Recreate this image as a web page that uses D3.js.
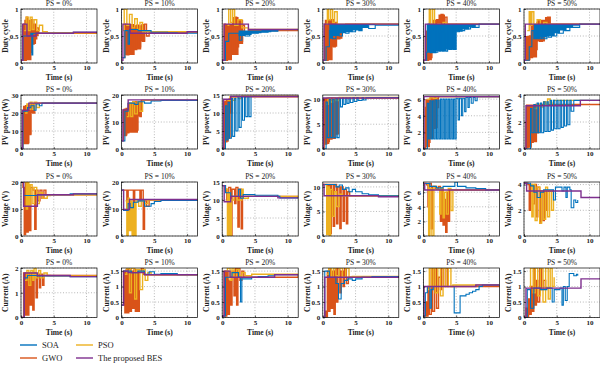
<!DOCTYPE html>
<html>
<head>
<meta charset="utf-8">
<script src="https://cdn.jsdelivr.net/npm/d3@7"></script>
<style>
  body { margin: 0; background: #fff; }
  text { font-family: "Liberation Serif", "Times New Roman", serif; }
</style>
</head>
<body>
<div id="chart"></div>
<script>
// panel titles and axis labels
var psLabels = ["PS = 0%", "PS = 10%", "PS = 20%", "PS = 30%", "PS = 40%", "PS = 50%"];
var rowLabels = ["Duty cycle", "PV power (W)", "Voltage (V)", "Current (A)"];
var xTicks = [0, 5, 10];

// y axis top and ticks, one entry per column
var dutyTop = [1, 1, 1, 1, 1, 1];
var dutyTicks = [[0, 0.5, 1], [0, 0.5, 1], [0, 0.5, 1], [0, 0.5, 1], [0, 0.5, 1], [0, 0.5, 1]];
var powerTop = [30, 20, 15, 10.9, 6.5, 4];
var powerTicks = [[0, 10, 20, 30], [0, 10, 20], [0, 5, 10, 15], [0, 5, 10], [0, 2, 4, 6], [0, 2, 4]];
var voltTop = [20, 20, 15, 11, 7.4, 4.2];
var voltTicks = [[0, 10, 20], [0, 10, 20], [0, 5, 10, 15], [0, 5, 10], [0, 2, 4, 6], [0, 2, 4]];
var currTop = [2, 1.6, 1.6, 1.6, 1.6, 1.6];
var currTicks = [[0, 1, 2], [0, 0.5, 1, 1.5], [0, 0.5, 1, 1.5], [0, 0.5, 1, 1.5], [0, 0.5, 1, 1.5], [0, 0.5, 1, 1.5]];

// ---- Duty cycle: [time, value] steps, one list per column ----
var dutySOA = [
  [[0,0.05],[0.3,0.5],[1.5,0.55],[1.65,0.15],[1.8,0.55],[4.5,0.55],[8,0.57],[11.6,0.57]],
  [[0,0.1],[0.5,0.6],[1.0,0.35],[1.2,0.62],[2.5,0.6],[4.5,0.57],[7,0.56],[8.5,0.55],[11.6,0.55]],
  [[0,0.05],[0.5,0.4],[1.0,0.55],[2.6,0.42],[3.0,0.55],[3.5,0.5],[4.2,0.55],[5.5,0.57],[7,0.59],[8.5,0.62],[11.6,0.62]],
  [[0,0.05],[0.5,0.3],[1.0,0.6],[1.5,0.45],[2.0,0.65],[2.5,0.5],[3.0,0.66],[3.5,0.55],[4,0.67],[4.5,0.58],[5,0.68],[5.5,0.6],[6,0.69],[7,0.64],[8,0.7],[11.6,0.72]],
  [[0,0.05],[0.5,0.2],[0.7,0.72],[0.9,0.2],[1.2,0.7],[1.4,0.2],[1.7,0.7],[1.9,0.2],[2.2,0.7],[2.4,0.22],[2.7,0.7],[2.9,0.22],[3.2,0.7],[3.4,0.22],[3.7,0.7],[3.9,0.25],[4.3,0.7],[4.5,0.25],[5.0,0.58],[5.5,0.7],[5.7,0.6],[6.3,0.7],[6.5,0.63],[7.2,0.7],[7.4,0.66],[8.5,0.72],[11.6,0.72]],
  [[0,0.05],[0.8,0.3],[1.2,0.6],[1.5,0.45],[2.0,0.7],[2.2,0.45],[2.7,0.7],[2.9,0.45],[3.5,0.7],[3.7,0.48],[4.2,0.7],[4.4,0.5],[5.0,0.7],[5.2,0.55],[6.0,0.7],[6.2,0.6],[7.0,0.7],[7.2,0.66],[8.5,0.72],[11.6,0.72]]
];
var dutyGWO = [
  [[0,0.05],[0.4,0.72],[0.6,0.05],[0.8,0.85],[1.0,0.1],[1.2,0.75],[1.4,0.2],[1.6,0.8],[1.8,0.35],[2.0,0.72],[2.2,0.45],[2.4,0.65],[2.7,0.55],[11.6,0.55]],
  [[0,0.1],[0.5,0.72],[0.8,0.15],[1.1,0.7],[1.4,0.2],[1.7,0.68],[2.0,0.25],[2.3,0.7],[2.6,0.3],[2.9,0.6],[3.2,0.4],[3.5,0.72],[3.8,0.5],[4.2,0.57],[11.6,0.57]],
  [[0,0.05],[0.3,0.72],[0.5,0.05],[0.8,0.6],[1.0,0.1],[1.3,0.7],[1.6,0.2],[1.9,0.85],[2.2,0.3],[2.5,0.8],[2.8,0.4],[3.1,0.7],[3.4,0.55],[4,0.6],[11.6,0.6]],
  [[0,0.05],[0.3,0.72],[0.5,0.05],[0.8,0.75],[1.0,0.15],[1.3,0.8],[1.6,0.3],[1.9,0.75],[2.2,0.45],[2.6,0.7],[3,0.6],[3.5,0.72],[11.6,0.72]],
  [[0,0.05],[0.3,0.5],[0.5,0.05],[0.8,0.6],[1.0,0.1],[1.3,0.72],[1.6,0.3],[2.0,0.8],[2.3,0.5],[2.7,0.9],[3.0,0.6],[3.3,0.85],[3.6,0.72],[11.6,0.72]],
  [[0,0.05],[0.3,0.3],[0.5,0.05],[0.8,0.5],[1.0,0.1],[1.3,0.7],[1.6,0.25],[2.0,0.75],[2.4,0.4],[2.8,0.78],[3.2,0.55],[3.6,0.85],[4.0,0.72],[11.6,0.72]]
];
var dutyPSO = [
  [[0.5,0.6],[0.8,0.85],[1.1,0.6],[1.4,0.85],[1.7,0.62],[2.0,0.8],[2.4,0.6],[2.8,0.7],[3.3,0.58],[4,0.56],[11.6,0.56]],
  [[0.2,0.6],[0.4,1.0],[0.8,0.7],[1.2,0.9],[1.6,0.65],[2.0,0.82],[2.4,0.62],[2.8,0.75],[3.2,0.58],[11.6,0.58]],
  [[0.8,0.7],[1.0,1.0],[1.3,0.75],[1.6,1.0],[1.9,0.7],[2.4,0.8],[3,0.65],[4,0.62],[11.6,0.62]],
  [[0.5,0.72],[0.7,1.0],[0.9,0.8],[1.2,1.0],[1.5,0.75],[1.8,0.95],[2.2,0.72],[11.6,0.72]],
  [[0.6,0.6],[0.9,1.0],[1.1,0.7],[1.4,1.0],[1.7,0.65],[2.2,0.72],[2.6,0.65],[3.0,0.75],[3.5,0.72],[11.6,0.72]],
  [[0.5,0.6],[0.8,0.95],[1.0,0.7],[1.2,0.95],[1.5,0.72],[2,0.8],[2.5,0.7],[3,0.75],[3.5,0.72],[11.6,0.72]]
];
var dutyBES = [
  [[0,0.05],[0.25,0.72],[0.9,0.5],[2.3,0.55],[8,0.57],[11.6,0.57]],
  [[0,0.05],[0.2,0.72],[1.3,0.55],[10,0.58],[11.6,0.58]],
  [[0,0.05],[0.3,0.72],[4.0,0.62],[11.6,0.62]],
  [[0,0.05],[0.2,0.72],[11.6,0.72]],
  [[0,0.05],[0.3,0.72],[11.6,0.72]],
  [[0,0.05],[0.2,0.72],[11.6,0.72]]
];
// dense switching shown as a band: [time, low, high]
var dutySOABand = [
  [],
  [],
  [[2.5,0.5,0.6],[3.5,0.52,0.6],[4.5,0.55,0.6],[6,0.57,0.61],[7.5,0.59,0.62],[8.5,0.62,0.62]],
  [[1.0,0.45,0.72],[1.5,0.5,0.72],[2.5,0.55,0.72],[3.5,0.57,0.72],[4.5,0.6,0.72],[6.0,0.65,0.72],[7.0,0.7,0.72],[8.0,0.72,0.72]],
  [[0.5,0.2,0.72],[1.0,0.18,0.72],[2.0,0.22,0.72],[3.5,0.25,0.72],[5.0,0.58,0.72],[6.0,0.62,0.72],[7.0,0.66,0.72],[8.0,0.7,0.72],[8.5,0.72,0.72]],
  [[1.5,0.45,0.72],[2.5,0.47,0.72],[3.5,0.5,0.72],[4.7,0.55,0.72],[5.5,0.6,0.72],[6.5,0.65,0.72],[7.5,0.69,0.72],[8.5,0.72,0.72]]
];
var dutyGWOBand = [
  [[0.5,0.05,0.8],[1.6,0.35,0.72],[2.3,0.5,0.6],[2.7,0.55,0.55]],
  [[0.5,0.15,0.72],[2.0,0.25,0.7],[3.0,0.4,0.72],[3.6,0.57,0.57]],
  [[0.3,0.05,0.72],[1.5,0.15,0.85],[2.5,0.35,0.8],[3.2,0.55,0.6],[3.5,0.6,0.6]],
  [[0.3,0.05,0.8],[1.5,0.3,0.75],[2.2,0.45,0.72],[3.0,0.6,0.72],[3.5,0.72,0.72]],
  [[0.3,0.05,0.6],[1.3,0.3,0.8],[2.3,0.5,0.9],[3.3,0.72,0.72]],
  [[0.3,0.05,0.5],[1.0,0.1,0.7],[2.0,0.4,0.8],[3.2,0.55,0.85],[4.0,0.72,0.72]]
];

// ---- PV power ----
var powerSOA = [
  [[0,0],[0.3,21],[1.0,23],[1.5,24],[2.0,21.5],[2.3,25],[2.8,24],[3.2,25.5],[11.6,25.5]],
  [[0,3],[0.5,14],[1.0,17],[2.0,16.5],[2.5,17.5],[3.5,17],[4.5,17.8],[6,18],[11.6,18.2]],
  [[0,0],[0.5,12],[0.7,2.5],[0.9,13],[1.1,3],[1.4,14],[1.6,3.5],[1.9,14],[2.1,5],[2.4,14.2],[2.6,6],[2.9,14.3],[3.1,8],[3.4,14.4],[3.6,9],[3.9,14.5],[4.1,9],[4.4,14.6],[11.6,14.7]],
  [[0,0],[0.5,9.5],[0.7,2.3],[1.0,10],[1.2,2.3],[1.5,10],[1.7,2.3],[2.0,10.2],[2.2,2.3],[2.5,10.2],[2.7,8.5],[3.0,10.3],[3.2,9],[3.5,10.3],[3.7,9.2],[4.0,10.3],[4.2,9.4],[4.6,10.4],[4.8,9.6],[5.2,10.4],[5.4,9.8],[6.0,10.4],[6.2,9.9],[6.6,10.4],[11.6,10.4]],
  [[0,0],[0.6,5.5],[0.8,1.2],[1.0,5.8],[1.2,1.2],[1.4,5.8],[1.6,1.2],[1.8,5.9],[2.0,1.2],[2.2,5.9],[2.4,1.2],[2.6,6],[2.8,1.2],[3.0,6],[3.2,1.2],[3.4,6],[3.6,1.2],[3.8,6],[4.0,1.2],[4.2,6],[4.4,1.2],[4.6,6],[4.8,1.2],[5.0,6.1],[5.3,3.5],[5.5,6.1],[5.8,4],[6.0,6.1],[6.3,4.5],[6.5,6.2],[6.8,5],[7.0,6.2],[7.3,5.5],[7.6,6.2],[7.9,5.8],[8.2,6.3],[11.6,6.3]],
  [[0,0],[1.0,3],[1.2,1.2],[1.5,3.3],[1.7,1.2],[2.0,3.4],[2.2,1.2],[2.5,3.4],[2.7,1.2],[3.0,3.5],[3.2,1.3],[3.5,3.5],[3.7,1.3],[4.0,3.6],[4.2,1.4],[4.5,3.6],[4.7,1.5],[5.0,3.6],[5.2,1.5],[5.5,3.6],[5.7,1.6],[6.0,3.6],[6.2,1.7],[6.5,3.6],[6.7,1.8],[7.0,3.6],[7.2,2.8],[7.6,3.6],[11.6,3.6]]
];
var powerGWO = [
  [[0,0],[0.3,21],[0.5,3],[0.7,24],[0.9,3],[1.1,24],[1.3,8],[1.5,25],[1.8,20],[2.1,25.5],[11.6,25.5]],
  [[0,3],[0.3,14.5],[0.5,5],[0.7,15],[0.9,6],[1.1,17],[1.3,7],[1.5,17],[1.8,7],[2.0,17.5],[2.3,7],[2.5,17.5],[2.8,12],[3.0,18],[11.6,18.2]],
  [[0,0],[0.3,13],[0.5,2],[0.7,13.5],[0.9,3],[1.1,14],[1.3,10],[1.5,14.5],[11.6,14.7]],
  [[0,0],[0.2,10],[0.4,1],[0.6,10.2],[0.8,1.5],[1.0,10.3],[1.2,2],[1.4,10.3],[1.6,2.5],[1.8,10.3],[2.0,3],[2.3,10.3],[11.6,10.4]],
  [[0,0],[0.3,5],[0.4,0.3],[0.6,5.5],[0.8,0.8],[1.0,6],[1.2,1.5],[1.4,6.1],[1.6,2.5],[1.8,6.2],[2.0,5],[2.3,6.3],[11.6,6.3]],
  [[0,0],[0.3,2],[0.4,0.1],[0.6,2.5],[0.8,0.3],[1.0,3],[1.2,0.5],[1.4,3.2],[1.6,0.8],[1.8,3.3],[2.0,1.2],[2.2,3.3],[11.6,3.3]]
];
var powerPSO = [
  [[0.6,20],[0.9,25],[1.1,22],[1.4,26],[1.7,22],[2.0,26],[2.4,23],[2.8,25.5],[11.6,25.5]],
  [[0.8,12],[1.1,17],[1.4,12],[1.7,17.5],[2.0,13],[2.4,17.5],[2.8,14],[3.2,18],[11.6,18.2]],
  [[0.8,13.5],[1.2,14.5],[1.6,13.5],[2.0,14.6],[2.5,14],[3.0,14.7],[11.6,14.7]],
  [[0.5,9],[0.8,10.3],[1.2,9.5],[1.6,10.3],[2.0,9.8],[2.5,10.4],[11.6,10.4]],
  [[0.6,6],[1.0,6.2],[1.5,6.1],[2.0,6.3],[11.6,6.3]],
  [[1.5,3],[2,3.3],[2.5,3.1],[3.0,3.5],[3.3,3.3],[3.6,3.7],[4.0,3.4],[4.5,3.6],[11.6,3.6]]
];
var powerBES = [
  [[0,0],[0.2,21.5],[1.2,25.5],[11.6,25.8]],
  [[0,3],[0.2,14.5],[1.0,18.2],[11.6,18.3]],
  [[0,0],[0.2,13.8],[1.3,14.6],[11.6,14.7]],
  [[0,0],[0.1,10.3],[11.6,10.4]],
  [[0,0],[0.1,6.3],[11.6,6.3]],
  [[0,0],[0.3,3.2],[8.6,3.6],[11.6,3.6]]
];
var powerSOABand = [[], [], [], [], [], []];
var powerGWOBand = [
  [[0.3,3,24],[1.3,8,25],[1.6,20,25.5],[2.0,25.5,25.5]],
  [[0.3,5,15],[0.9,6,17],[2.5,12,17.5],[3.0,18,18]],
  [[0.3,2,13.5],[1.0,3,14],[1.3,10,14.5],[1.5,14.5,14.5]],
  [[0,1,10.3],[1.0,2,10.3],[2.0,3,10.3],[2.5,10.3,10.3]],
  [[0.3,0.2,6],[1.0,1.2,6.1],[1.6,2.5,6.2],[2.2,6.2,6.2]],
  [[0.3,0.1,3.3],[1.2,0.5,3.3],[2.0,1.2,3.3],[2.4,3.3,3.3]]
];

// ---- Voltage ----
var voltSOA = [
  [[0,20],[0.4,15],[1.5,15],[2.5,15.2],[4,15.3],[7.5,15.6],[11.6,15.6]],
  [[0,17],[0.3,9.5],[1.0,12],[1.3,10.5],[1.8,12.5],[2.5,13],[3.5,11],[4.5,12],[5.0,12.8],[6.0,13.2],[11.6,13.3]],
  [[0,14],[0.5,12],[1.3,11],[2.5,13],[2.8,10.5],[3.2,11.5],[5,11.3],[8.5,11],[8.8,10.6],[11.6,10.6]],
  [[0,10.5],[1.0,10.5],[2.0,10],[2.5,10.4],[3.0,9.5],[3.5,9.8],[4.0,9],[4.5,9.5],[5.0,9],[6,8.6],[7,8.4],[8.5,8.2],[11.6,8]],
  [[0,7.2],[1.0,6.8],[2.0,6.6],[3.0,6.8],[4.5,6.8],[4.8,7.4],[5.2,6.8],[6.5,6.6],[8,6.5],[9.5,6.3],[11.6,6.3]],
  [[0,4.1],[1.0,3.9],[1.5,3.4],[2.0,3.0],[2.5,3.4],[3.0,3.6],[4.5,2.8],[4.8,3.8],[5.8,3.5],[6.1,3.8],[6.4,3.0],[6.6,3.8],[7.0,3.6],[7.2,2.2],[7.6,2.8],[7.9,2.6],[8.2,2.8]]
];
var voltGWO = [
  [[0,20],[0.3,18],[0.5,0.5],[0.7,20],[0.9,1.5],[1.1,19],[1.3,2],[1.5,18],[1.8,17],[2.1,2.5],[2.3,17],[2.6,13],[2.9,17],[3.2,14],[3.5,17],[3.8,15.3],[11.6,15.6]],
  [[0,17],[0.8,10],[1.0,17],[1.8,11],[2.0,17],[2.8,13],[3.0,17],[3.3,2.5],[3.5,13],[3.8,11],[4.2,13.3],[11.6,13.3]],
  [[0,14],[0.5,13],[0.7,10],[1.0,13.5],[1.3,0],[1.5,13],[1.9,9],[2.1,13.5],[2.4,2.5],[2.6,13],[2.9,2],[3.1,11],[3.4,11],[11.6,10.6]],
  [[0,10.5],[0.5,10.5],[0.7,1],[0.9,10.5],[1.1,0.5],[1.3,10.5],[1.6,2],[1.8,10.5],[2.1,2.5],[2.3,10],[2.6,1.5],[2.8,10],[3.1,3],[3.3,9.5],[3.6,2.5],[3.8,9],[4.1,8.2],[11.6,8]],
  [[0,7.2],[0.5,7],[0.7,4],[0.9,7.2],[1.2,1],[1.4,6.8],[1.8,6.5],[2.3,6.8],[2.6,2],[2.8,6.5],[3.0,1.5],[3.2,5],[3.4,0.5],[3.6,6],[3.8,2],[4.0,6.3],[11.6,6.3]],
  [[0,4.1],[0.6,4],[0.8,2],[1.0,4],[1.3,2.5],[1.6,4],[1.9,1.5],[2.1,3.8],[2.4,1],[2.6,3.5],[2.9,1.2],[3.1,3.5],[3.4,2],[3.6,3.5],[4.5,3.5]]
];
var voltPSO = [
  [[0.5,20],[0.8,10],[1.0,20],[1.2,11],[1.4,19],[1.7,12],[2.0,18],[2.4,12],[2.8,16],[3.3,14],[4.0,15],[4.5,15.3],[11.6,15.6]],
  [[0.6,13],[0.8,0],[1.0,14],[1.2,2],[1.4,13],[1.6,0],[1.8,12],[2.0,0],[2.2,13],[2.6,11],[3.0,13],[3.5,12],[4.0,13.3],[11.6,13.3]],
  [[0.6,13],[0.8,0],[1.0,12],[1.2,0],[1.4,10],[1.8,11],[2.3,10],[3.0,13],[3.2,10.5],[4,11],[11.6,10.6]],
  [[0.4,10.5],[0.6,0.3],[0.8,10],[1.0,0],[1.2,9.5],[1.5,4],[1.8,9],[2.1,6],[2.5,8.5],[3,8.2],[11.6,8]],
  [[0.6,7],[0.8,0],[1.0,6.5],[1.3,0],[1.6,6.8],[2.0,6.4],[2.5,3],[2.7,6.5],[3.0,2.5],[3.2,6],[3.5,3],[3.8,6.5],[4.2,3.5],[4.5,6.3],[11.6,6.3]],
  [[1.0,4],[1.2,1.5],[1.4,4],[1.7,1.2],[2.0,3.8],[2.4,1.0],[2.7,3.5],[3.0,1.3],[3.3,3.8],[3.6,1.5],[3.9,3.5],[4.2,2],[4.5,3.5]]
];
var voltBES = [
  [[0,20],[0.4,11],[2.5,15.3],[8,15.6],[11.6,15.6]],
  [[0,17],[0.3,9.8],[1.2,13.5],[11.6,13.5]],
  [[0,14],[0.3,9.5],[1.3,11],[8.5,10.6],[11.6,10.6]],
  [[0,10.5],[0.2,8.2],[8.5,8.0],[11.6,8.0]],
  [[0,7.2],[0.2,6.3],[11.6,6.3]],
  [[0,4.1],[0.4,3.5],[8.7,3.0],[11.6,3.0]]
];

// ---- Current ----
var currSOA = [
  [[0,0],[0.5,1.6],[1.0,1.7],[2.5,1.68],[4.5,1.68],[7.5,1.65],[11.6,1.65]],
  [[0,0.4],[0.3,1.5],[1.5,1.45],[2.5,1.5],[3.5,1.4],[4.2,1.48],[5.0,1.4],[6.0,1.42],[8.5,1.38],[11.6,1.38]],
  [[0,0.05],[0.5,1.3],[1.5,1.45],[2.5,1.3],[2.8,0.5],[3.0,1.25],[4.5,1.3],[5.5,1.32],[7,1.35],[8,1.38],[11.6,1.38]],
  [[0,0],[0.3,1.5],[1.0,1.3],[2.0,1.1],[2.4,0.6],[2.8,1.1],[3.3,1.2],[3.8,1.25],[4.5,1.2],[5,1.25],[6,1.3],[7.5,1.32],[11.6,1.33]],
  [[0,0.05],[0.3,0.8],[0.6,1.0],[1.0,0.3],[1.2,0.9],[1.5,1.0],[4.5,1.0],[4.7,0.15],[5.6,0.7],[6.5,0.75],[7.0,0.8],[7.5,0.85],[8.0,0.9],[8.5,1.0],[9.0,1.05],[11.6,1.05]],
  [[0,0],[0.5,0.9],[1.0,0.3],[1.5,0.95],[2.5,0.9],[3.5,0.95],[4.3,0.5],[4.6,0.9],[5.5,0.95],[5.8,0.4],[6.0,1.0],[6.3,0.55],[6.6,1.0],[6.9,1.42],[7.6,1.35],[8.0,1.4],[8.2,1.35]]
];
var currGWO = [
  [[0,0],[0.4,1.8],[0.6,0.1],[0.8,1.8],[1.0,0.1],[1.2,1.8],[1.4,0.5],[1.6,1.8],[1.8,0.3],[2.0,1.8],[2.3,0.8],[2.5,1.75],[2.8,1.2],[3.0,1.75],[3.3,1.3],[3.5,1.7],[11.6,1.65]],
  [[0,0.4],[0.3,1.5],[0.5,0.15],[0.7,1.55],[0.9,0.15],[1.1,1.55],[1.3,0.2],[1.5,1.5],[1.7,0.3],[1.9,1.55],[2.1,0.2],[2.3,1.5],[2.5,0.2],[2.7,1.5],[3.0,1.6],[3.3,1.4],[3.6,1.38],[11.6,1.38]],
  [[0,0.05],[0.3,1.5],[0.5,0.05],[0.7,1.5],[0.9,0.1],[1.1,1.2],[1.3,0.4],[1.5,1.5],[1.8,0.7],[2.0,1.6],[2.2,0.4],[2.4,1.6],[2.7,1.2],[3.0,1.5],[3.3,1.3],[11.6,1.38]],
  [[0,0],[0.3,0.2],[0.5,0.0],[0.7,1.5],[0.9,0.2],[1.1,1.6],[1.3,0.3],[1.5,1.5],[1.7,0.1],[1.9,1.6],[2.1,0.5],[2.3,1.6],[2.6,0.8],[2.8,1.5],[3.1,1.0],[3.3,1.6],[3.6,1.1],[3.9,1.3],[11.6,1.33]],
  [[0,0.05],[0.3,0.5],[0.5,0.05],[0.7,1.0],[0.9,0.1],[1.2,1.6],[1.4,0.2],[1.7,1.6],[2.0,0.3],[2.3,1.3],[2.6,0.9],[2.8,1.6],[3.1,1.0],[3.4,1.6],[3.7,1.0],[11.6,1.05]],
  [[0,0],[0.3,0.3],[0.5,0],[0.7,0.6],[0.9,0.1],[1.1,1.0],[1.3,0.2],[1.5,1.6],[1.7,0.4],[1.9,1.2],[2.1,0.5],[2.4,1.6],[2.7,0.9],[3.0,1.2],[3.3,0.95],[4.0,0.95]]
];
var currPSO = [
  [[0.6,1.5],[0.9,1.9],[1.2,1.3],[1.5,1.9],[1.8,1.5],[2.0,2.0],[2.3,1.6],[2.7,1.9],[3.0,1.6],[3.5,1.8],[4,1.7],[4.5,1.68],[11.6,1.65]],
  [[0.5,1.4],[0.8,1.6],[1.2,0.8],[1.5,1.6],[2.0,0.6],[2.3,1.55],[2.8,0.9],[3.2,1.55],[3.6,1.2],[4.0,1.45],[4.5,1.38],[11.6,1.38]],
  [[0.5,1.5],[0.8,1.6],[1.2,1.2],[1.5,1.6],[1.8,1.3],[2.2,1.55],[2.6,1.35],[3.0,1.45],[3.5,1.35],[4.5,1.4],[11.6,1.38]],
  [[0.6,1.4],[0.9,1.6],[1.3,1.3],[1.6,1.6],[2.0,1.35],[2.5,1.6],[3.0,1.3],[3.5,1.6],[4.0,1.3],[4.5,1.33],[11.6,1.33]],
  [[0.6,0.9],[0.9,1.6],[1.2,1.0],[1.5,1.6],[1.8,0.8],[2.2,1.6],[2.6,0.7],[3.0,1.6],[3.4,1.0],[3.8,1.6],[4.2,1.0],[4.5,1.05],[11.6,1.05]],
  [[0.8,1.0],[1.0,1.6],[1.4,0.8],[1.7,1.6],[2.1,0.7],[2.5,1.6],[2.9,0.5],[3.3,1.6],[3.7,0.6],[4.0,1.6],[4.3,1.0],[4.6,1.3]]
];
var currBES = [
  [[0,0],[0.5,1.8],[2.5,1.7],[7.5,1.65],[11.6,1.65]],
  [[0,0.4],[0.3,1.5],[1.0,1.45],[3.5,1.38],[11.6,1.38]],
  [[0,0.05],[0.3,1.5],[1.2,1.3],[4.5,1.3],[8,1.38],[11.6,1.38]],
  [[0,0],[0.3,1.3],[11.6,1.33]],
  [[0,0.05],[0.1,1.0],[8,1.05],[11.6,1.05]],
  [[0,0],[0.3,0.95],[8.7,1.25],[11.6,1.25]]
];

var seriesNames = ["SOA", "GWO", "PSO", "The proposed BES"];
var colors = {"SOA": "#0072BD", "GWO": "#D95319", "PSO": "#EDB120", "The proposed BES": "#7E2F8E"};
var widths = {"SOA": 1.1, "GWO": 1.4, "PSO": 1.4, "The proposed BES": 1.4};

// rows: which arrays go where
var rows = [
  {label: rowLabels[0], top: dutyTop, ticks: dutyTicks,
   data: {"SOA": dutySOA, "GWO": dutyGWO, "PSO": dutyPSO, "The proposed BES": dutyBES},
   bands: {"SOA": dutySOABand, "GWO": dutyGWOBand}},
  {label: rowLabels[1], top: powerTop, ticks: powerTicks,
   data: {"SOA": powerSOA, "GWO": powerGWO, "PSO": powerPSO, "The proposed BES": powerBES},
   bands: {"SOA": powerSOABand, "GWO": powerGWOBand}},
  {label: rowLabels[2], top: voltTop, ticks: voltTicks,
   data: {"SOA": voltSOA, "GWO": voltGWO, "PSO": voltPSO, "The proposed BES": voltBES}, bands: {}},
  {label: rowLabels[3], top: currTop, ticks: currTicks,
   data: {"SOA": currSOA, "GWO": currGWO, "PSO": currPSO, "The proposed BES": currBES}, bands: {}}
];
var drawOrder = ["GWO", "PSO", "SOA", "The proposed BES"];

// layout
var width = 600, height = 370;
var plotW = 76;
var rowTop = [9, 95, 182, 268];
var rowH = [54, 54, 54, 49.5];
function colLeft(i) { return 21 + i * 100.6; }

var svg = d3.select("#chart").append("svg")
    .attr("width", width)
    .attr("height", height);

var x = d3.scaleLinear().domain([0, 11.6]).range([0, plotW]);

rows.forEach(function(row, r) {
  var plotH = rowH[r];
  psLabels.forEach(function(title, c) {
    var y = d3.scaleLinear().domain([0, row.top[c]]).range([plotH, 0]);
    var g = svg.append("g")
        .attr("transform", "translate(" + colLeft(c) + "," + rowTop[r] + ")");

    var clipId = "clip" + r + "_" + c;
    g.append("clipPath").attr("id", clipId)
      .append("rect").attr("width", plotW).attr("height", plotH);

    // dotted grid
    g.selectAll(".gx").data(xTicks).enter().append("line")
        .attr("x1", function(d){ return x(d); }).attr("x2", function(d){ return x(d); })
        .attr("y1", 0).attr("y2", plotH)
        .attr("stroke", "#8a8a8a").attr("stroke-width", 0.6).attr("stroke-dasharray", "1,1.8");
    g.selectAll(".gy").data(row.ticks[c]).enter().append("line")
        .attr("x1", 0).attr("x2", plotW)
        .attr("y1", function(d){ return y(d); }).attr("y2", function(d){ return y(d); })
        .attr("stroke", "#8a8a8a").attr("stroke-width", 0.6).attr("stroke-dasharray", "1,1.8");

    // the lines
    var line = d3.line()
        .x(function(d){ return x(d[0]); })
        .y(function(d){ return y(d[1]); })
        .curve(d3.curveStepAfter);
    var band = d3.area()
        .x(function(d){ return x(d[0]); })
        .y0(function(d){ return y(d[1]); })
        .y1(function(d){ return y(d[2]); })
        .curve(d3.curveStepAfter);
    var lines = g.append("g").attr("clip-path", "url(#" + clipId + ")");
    drawOrder.forEach(function(name) {
      var b = row.bands[name] ? row.bands[name][c] : [];
      if (b.length) {
        lines.append("path")
            .attr("d", band(b))
            .attr("fill", colors[name])
            .attr("stroke", "none");
      }
      lines.append("path")
          .attr("d", line(row.data[name][c]))
          .attr("fill", "none")
          .attr("stroke", colors[name])
          .attr("stroke-width", widths[name])
          .attr("stroke-linejoin", "miter");
    });

    // axes
    var xa = g.append("g").attr("transform", "translate(0," + plotH + ")")
        .call(d3.axisBottom(x).tickValues(xTicks).tickSizeInner(-2).tickSizeOuter(0).tickPadding(2.5));
    var ya = g.append("g")
        .call(d3.axisLeft(y).tickValues(row.ticks[c]).tickFormat(d3.format("~g")).tickSizeInner(-2).tickSizeOuter(0).tickPadding(2.5));
    [xa, ya].forEach(function(a) {
      a.select(".domain").remove();
      a.selectAll("line").attr("stroke", "#000").attr("stroke-width", 0.6);
      a.selectAll("text").attr("font-size", 7).attr("font-weight", "bold")
        .attr("font-family", "Liberation Serif").attr("fill", "#222");
    });

    // frame
    g.append("rect").attr("width", plotW).attr("height", plotH)
        .attr("fill", "none").attr("stroke", "#000").attr("stroke-width", 0.7);

    // title and labels
    g.append("text").attr("x", plotW / 2).attr("y", -3)
        .attr("text-anchor", "middle").attr("font-size", 7.5).attr("fill", "#222")
        .text(title);
    g.append("text").attr("x", plotW / 2).attr("y", plotH + 17)
        .attr("text-anchor", "middle").attr("font-size", 7.5).attr("font-weight", "bold").attr("fill", "#222")
        .text("Time (s)");
    g.append("text")
        .attr("transform", "translate(-13," + (plotH / 2) + ") rotate(-90)")
        .attr("text-anchor", "middle").attr("font-size", 7.5).attr("font-weight", "bold").attr("fill", "#222")
        .text(row.label);
  });
});

// legend
var legendPos = [[20, 345], [20, 358], [76, 345], [76, 358]];
var legend = svg.selectAll(".legend").data(seriesNames).enter().append("g")
    .attr("transform", function(d, i){ return "translate(" + legendPos[i][0] + "," + legendPos[i][1] + ")"; });
legend.append("line").attr("x1", 0).attr("x2", 17)
    .attr("stroke", function(d){ return colors[d]; }).attr("stroke-width", 1.4);
legend.append("text").attr("x", 22).attr("y", 3)
    .attr("font-size", 8.5).attr("fill", "#222")
    .text(function(d){ return d; });
</script>
</body>
</html>
